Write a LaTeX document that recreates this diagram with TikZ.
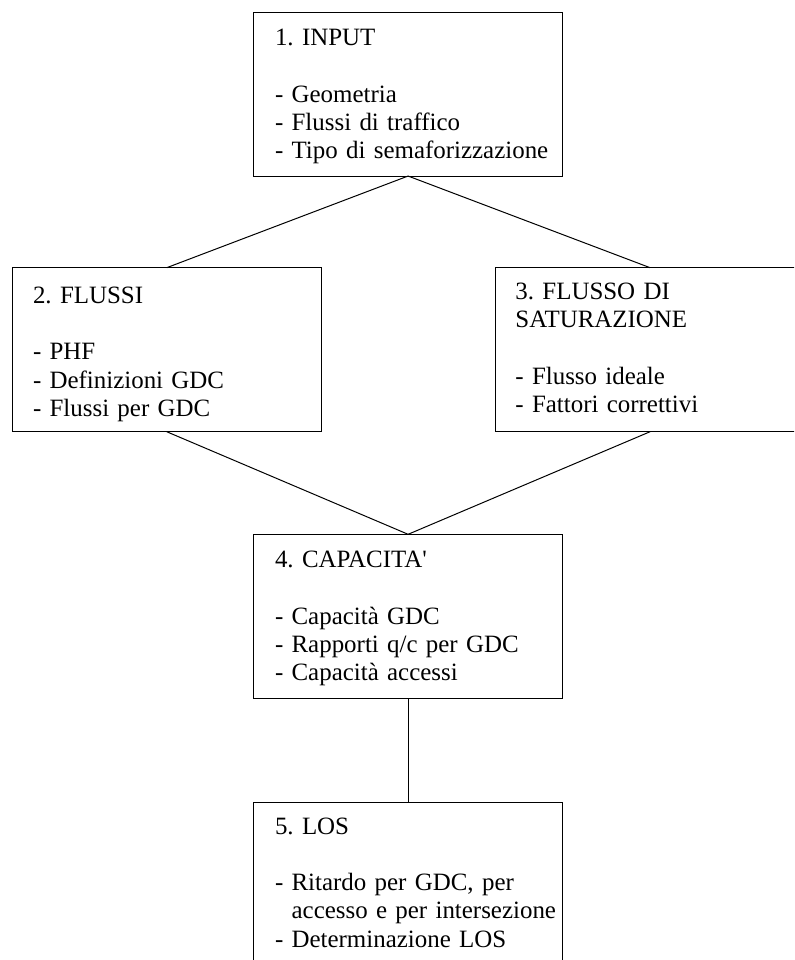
\documentclass[tikz,border=0pt]{standalone}
\usepackage{fontspec}
\setmainfont{Liberation Serif}[Ligatures=TeXOff]
\frenchspacing
\begin{document}
\begin{tikzpicture}[x=0.75pt,y=-0.75pt,
  box/.style={draw, line width=0.75pt, rectangle, inner sep=0pt, outer sep=0pt, anchor=north west, minimum width=231.6pt, minimum height=123pt},
  txt/.style={anchor=base west, inner sep=0pt, outer sep=0pt, text width=300pt, align=left, font=\fontsize{18.7pt}{21.2pt}\selectfont},
  link/.style={line width=0.75pt}]
\useasboundingbox (0,0) rectangle (794,960);
\clip (0,0) rectangle (794,960);
% boxes
\node[box, minimum height=122.5pt] (b1) at (253.7,12.7) {};
\node[box] (b2) at (12.3,267.7) {};
\node[box] (b3) at (495.7,267.7) {};
\node[box, minimum height=123.3pt] (b4) at (253.7,534.3) {};
\node[box, minimum height=150pt] (b5) at (253.7,802.3) {};
% texts
\node[txt] (t1) at (275,45.7) {1. INPUT\\[21.2pt]- Geometria\\- Flussi di traffico\\- Tipo di semaforizzazione};
\node[txt] (t2) at (33,303.3) {2. FLUSSI\\[21.2pt]- PHF\\- Definizioni GDC\\- Flussi per GDC};
\node[txt] (t3) at (515.4,299.3) {3. FLUSSO DI\\SATURAZIONE\\[21.2pt]- Flusso ideale\\- Fattori correttivi};
\node[txt] (t4) at (275,567.7) {4. CAPACITA'\\[21.2pt]- Capacità GDC\\- Rapporti q/c per GDC\\- Capacità accessi};
\node[txt] (t5) at (275,834) {5. LOS\\[21.2pt]- Ritardo per GDC, per\\\hphantom{- }accesso e per intersezione\\- Determinazione LOS};
% connectors
\draw[link] (b1.south) -- (b2.north);
\draw[link] (b1.south) -- (b3.north);
\draw[link] (b2.south) -- (b4.north);
\draw[link] (b3.south) -- (b4.north);
\draw[link] (b4.south) -- (b5.north);
\end{tikzpicture}
\end{document}
